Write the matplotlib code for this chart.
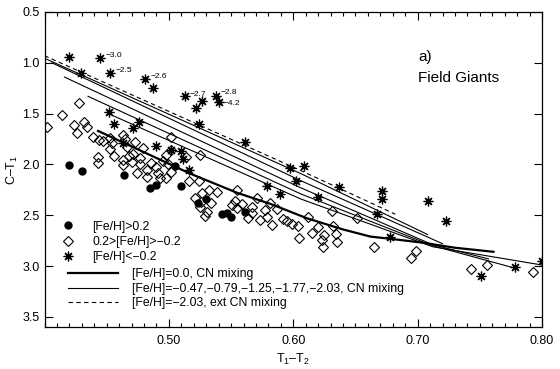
import matplotlib.pyplot as plt
from matplotlib.lines import Line2D
from matplotlib.ticker import MultipleLocator

plt.rcParams['font.family'] = ['Liberation Sans', 'DejaVu Sans']
plt.rcParams['mathtext.fontset'] = 'custom'
plt.rcParams['mathtext.rm'] = 'Liberation Sans'
plt.rcParams['mathtext.it'] = 'Liberation Sans'

# [Fe/H] > 0.2 (filled circles)
rich_x = [0.420, 0.430, 0.464, 0.485, 0.490, 0.505, 0.510, 0.523, 0.530, 0.543, 0.547, 0.550, 0.561]
rich_y = [2.01, 2.06, 2.10, 2.23, 2.20, 2.02, 2.21, 2.38, 2.34, 2.49, 2.48, 2.52, 2.47]

# 0.2 > [Fe/H] > -0.2 (open diamonds)
solar_x = [0.402, 0.414, 0.428, 0.424, 0.426, 0.432, 0.434, 0.439, 0.444, 0.447,
           0.443, 0.443, 0.453, 0.454, 0.453, 0.456, 0.463, 0.465, 0.466, 0.468,
           0.470, 0.463, 0.463, 0.473, 0.471, 0.479, 0.477, 0.477, 0.482, 0.474,
           0.482, 0.486, 0.490, 0.491, 0.493, 0.495, 0.499, 0.498, 0.502, 0.502,
           0.502, 0.498, 0.514, 0.525, 0.516, 0.524, 0.527, 0.532, 0.539, 0.521,
           0.526, 0.534, 0.525, 0.531, 0.529, 0.553, 0.559, 0.567, 0.555, 0.571,
           0.581, 0.577, 0.587, 0.567, 0.564, 0.573, 0.592, 0.595, 0.599, 0.604,
           0.583, 0.551, 0.555, 0.579, 0.605, 0.612, 0.615, 0.620, 0.623, 0.624,
           0.625, 0.631, 0.632, 0.634, 0.635, 0.651, 0.665, 0.695, 0.699, 0.743,
           0.756, 0.793]
solar_y = [1.63, 1.51, 1.40, 1.61, 1.69, 1.58, 1.63, 1.73, 1.76, 1.77,
           1.93, 1.99, 1.74, 1.79, 1.85, 1.92, 1.71, 1.75, 1.83, 1.92,
           1.98, 1.96, 2.01, 1.78, 1.90, 1.84, 1.94, 2.00, 2.05, 2.08,
           2.12, 1.99, 2.03, 2.08, 2.13, 1.97, 2.00, 2.13, 2.07, 1.73,
           1.86, 1.91, 1.93, 1.91, 2.16, 2.16, 2.28, 2.25, 2.27, 2.33,
           2.37, 2.38, 2.42, 2.47, 2.51, 2.36, 2.39, 2.42, 2.25, 2.33,
           2.38, 2.45, 2.44, 2.48, 2.53, 2.55, 2.54, 2.56, 2.59, 2.61,
           2.60, 2.40, 2.43, 2.52, 2.72, 2.52, 2.67, 2.62, 2.74, 2.81,
           2.69, 2.46, 2.61, 2.68, 2.76, 2.53, 2.81, 2.92, 2.85, 3.03,
           2.99, 3.06]

# [Fe/H] < -0.2 (asterisks)
poor_x = [0.420, 0.445, 0.429, 0.453, 0.481, 0.487, 0.513, 0.538, 0.527, 0.540,
          0.522, 0.524, 0.561, 0.452, 0.456, 0.471, 0.476, 0.490, 0.502, 0.510,
          0.511, 0.516, 0.463, 0.597, 0.602, 0.609, 0.579, 0.589, 0.637, 0.671,
          0.671, 0.708, 0.620, 0.667, 0.723, 0.678, 0.778, 0.751, 0.800]
poor_y = [0.94, 0.95, 1.10, 1.10, 1.16, 1.25, 1.33, 1.33, 1.38, 1.39,
          1.44, 1.60, 1.78, 1.48, 1.60, 1.64, 1.58, 1.82, 1.86, 1.87,
          1.95, 2.05, 1.79, 2.04, 2.16, 2.02, 2.21, 2.29, 2.22, 2.26,
          2.34, 2.36, 2.32, 2.49, 2.56, 2.71, 3.01, 3.10, 2.95]

# metallicity labels next to some metal-poor stars
label_x = [0.445, 0.453, 0.481, 0.513, 0.538, 0.540]
label_y = [0.95, 1.10, 1.16, 1.33, 1.33, 1.39]
label_text = ['\u22123.0', '\u22122.5', '\u22122.6', '\u22122.7', '\u22122.8', '\u22124.2']
label_lift = [1.5, 1.5, 1.5, 1.5, 3.0, -0.5]  # points, keeps -2.8 / -4.2 apart

# model tracks
solar_track_x = [0.443, 0.517, 0.555, 0.582, 0.611, 0.640, 0.662, 0.680, 0.704, 0.730, 0.761]
solar_track_y = [1.67, 2.09, 2.28, 2.39, 2.53, 2.64, 2.71, 2.735, 2.77, 2.82, 2.86]

thin_tracks_x = [
    [0.399, 0.606, 0.708],
    [0.406, 0.606, 0.720],
    [0.416, 0.606, 0.712, 0.757],
    [0.435, 0.606, 0.712, 0.778],
    [0.455, 0.606, 0.712, 0.800],
]
thin_tracks_y = [
    [0.95, 2.09, 2.69],
    [1.00, 2.16, 2.78],
    [1.14, 2.23, 2.79, 2.93],
    [1.33, 2.29, 2.80, 3.02],
    [1.52, 2.34, 2.81, 2.99],
]

ext_track_x = [0.400, 0.606, 0.682]
ext_track_y = [0.93, 2.06, 2.49]

x_ticks = [0.50, 0.60, 0.70, 0.80]
y_ticks = [0.5, 1.0, 1.5, 2.0, 2.5, 3.0, 3.5]

star = (8, 2, 0)

fig = plt.figure(figsize=(5.6, 3.69), dpi=100)
ax = fig.add_axes([0.0795, 0.1138, 0.8884, 0.8537])

ax.plot(solar_track_x, solar_track_y, color='black', lw=1.6)
for tx, ty in zip(thin_tracks_x, thin_tracks_y):
    ax.plot(tx, ty, color='black', lw=0.8)
ax.plot(ext_track_x, ext_track_y, color='black', lw=0.8, ls=(0, (4, 3)))

ax.plot(rich_x, rich_y, ls='none', marker='o', ms=5, color='black')
ax.plot(solar_x, solar_y, ls='none', marker='D', ms=5, mfc='none', mec='black', mew=0.8)
ax.plot(poor_x, poor_y, ls='none', marker=star, ms=7, color='black', mew=0.9)

for lx, ly, lt, dy in zip(label_x, label_y, label_text, label_lift):
    ax.annotate(lt, (lx, ly), xytext=(3.5, dy), textcoords='offset points',
                fontsize=6.0, va='center', ha='left')

ax.set_xlim(0.40, 0.80)
ax.set_ylim(3.6, 0.5)
ax.set_xticks(x_ticks)
ax.set_xticklabels([f'{v:.2f}' for v in x_ticks])
ax.xaxis.set_minor_locator(MultipleLocator(0.01))
ax.set_yticks(y_ticks)
ax.set_yticklabels([f'{v:.1f}' for v in y_ticks])
ax.tick_params(which='both', direction='in', top=True, right=True, width=0.8, labelsize=9)
ax.tick_params(which='major', length=6)
ax.tick_params(which='minor', length=3)
ax.tick_params(axis='x', pad=6)
for s in ax.spines.values():
    s.set_linewidth(0.9)

ax.set_xlabel('T$_1$\u2013T$_2$', fontsize=9, labelpad=3)
ax.set_ylabel('C\u2013T$_1$', fontsize=9, labelpad=2)

ax.text(0.751, 0.857, 'a)', transform=ax.transAxes, fontsize=11, va='center')
ax.text(0.751, 0.79, 'Field Giants', transform=ax.transAxes, fontsize=11, va='center')

marker_handles = [
    Line2D([], [], ls='none', marker='o', ms=5, color='black'),
    Line2D([], [], ls='none', marker='D', ms=5, mfc='none', mec='black', mew=0.8),
    Line2D([], [], ls='none', marker=star, ms=7, color='black', mew=0.9),
]
marker_labels = ['[Fe/H]>0.2', '0.2>[Fe/H]>\u22120.2', '[Fe/H]<\u22120.2']
leg1 = ax.legend(marker_handles, marker_labels, loc='upper left',
                 bbox_to_anchor=(0.035, 0.338), frameon=False, fontsize=8.8,
                 handlelength=1.0, handletextpad=1.5, labelspacing=0.28,
                 borderpad=0, borderaxespad=0)
ax.add_artist(leg1)

line_handles = [
    Line2D([], [], color='black', lw=1.6),
    Line2D([], [], color='black', lw=0.8),
    Line2D([], [], color='black', lw=0.8, ls=(0, (4, 3))),
]
line_labels = ['[Fe/H]=0.0, CN mixing',
               '[Fe/H]=\u22120.47,\u22120.79,\u22121.25,\u22121.77,\u22122.03, CN mixing',
               '[Fe/H]=\u22122.03, ext CN mixing']
ax.legend(line_handles, line_labels, loc='upper left',
          bbox_to_anchor=(0.047, 0.187), frameon=False, fontsize=8.8,
          handlelength=4.1, handletextpad=1.15, labelspacing=0.22,
          borderpad=0, borderaxespad=0)

fig.savefig('out.png', dpi=100)
